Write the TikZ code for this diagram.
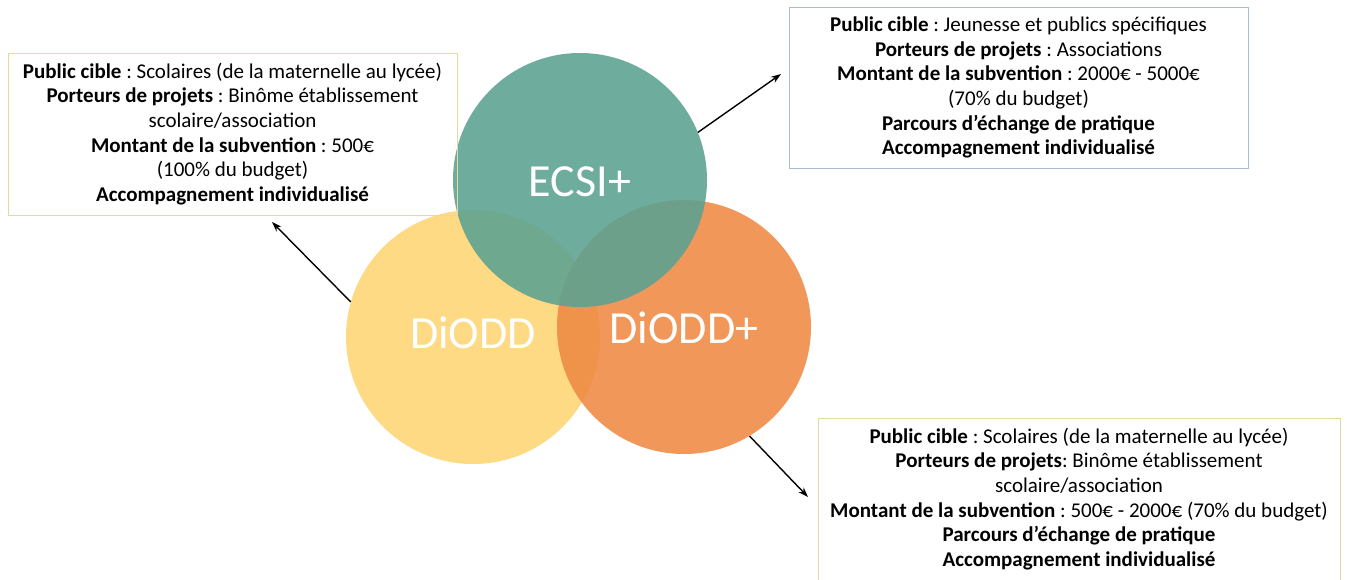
\documentclass[tikz,border=0pt]{standalone}
\usepackage{fontspec}
\setmainfont{Carlito}
\usetikzlibrary{arrows.meta}
\frenchspacing
\definecolor{teal1}{HTML}{5AA291}
\definecolor{yel1}{HTML}{FDD672}
\definecolor{ora1}{HTML}{EE8943}
\definecolor{boxy}{HTML}{E4D9A2}
\definecolor{boxb}{HTML}{A9BCD0}
\tikzset{
  venn/.style={circle, minimum size=254pt, inner sep=0pt, fill opacity=0.88, text opacity=1, text=white, font=\fontsize{46}{50}\selectfont},
  vennlabel/.style={text=white, font=\fontsize{46}{50}\selectfont},
  infobox/.style={draw, line width=0.9pt, align=center, inner sep=2pt, font=\fontsize{21}{24.7}\selectfont\frenchspacing},
  conn/.style={-{Stealth[length=10pt,width=7pt]}, line width=1.4pt, black}
}
\begin{document}
\begin{tikzpicture}[x=1pt,y=-1pt]
\useasboundingbox (0,0) rectangle (1347,579);
\fill[white] (0,0) rectangle (1347,579);
% circles
\node[venn, fill=yel1] (diodd) at (473,337) {};
\node[venn, fill=ora1] (diodp) at (684,327) {};
\node[venn, fill=teal1] (ecsi) at (580,180) {};
\node[vennlabel] (lecsi) at (580,182) {ECSI+};
\node[vennlabel] (ldiodd) at (473,333) {DiODD};
\node[vennlabel] (ldiodp) at (684,328) {DiODD+};
% boxes
\node[infobox, draw=boxy, minimum width=449pt, minimum height=162pt] (bl) at (232.5,134) {%
\textbf{Public cible} : Scolaires (de la maternelle au lycée)\\
\textbf{Porteurs de projets} : Binôme établissement\\
scolaire/association\\
\textbf{Montant de la subvention} : 500€\\
(100\% du budget)\\
\textbf{Accompagnement individualisé}};
\node[infobox, draw=boxb, minimum width=459pt, minimum height=161pt] (bt) at (1018.5,87.5) {%
\textbf{Public cible} : Jeunesse et publics spécifiques\\
\textbf{Porteurs de projets} : Associations\\
\textbf{Montant de la subvention} : 2000€ - 5000€\\
(70\% du budget)\\
\textbf{Parcours d’échange de pratique}\\
\textbf{Accompagnement individualisé}};
\node[infobox, draw=boxy, minimum width=522pt, minimum height=162pt] (bb) at (1079,499) {%
\textbf{Public cible} : Scolaires (de la maternelle au lycée)\\
\textbf{Porteurs de projets}: Binôme établissement\\
scolaire/association\\
\textbf{Montant de la subvention} : 500€ - 2000€ (70\% du budget)\\
\textbf{Parcours d’échange de pratique}\\
\textbf{Accompagnement individualisé}};
% arrow ends
\coordinate (el) at (272,222);
\coordinate (et) at (781,74);
\coordinate (eb) at (808,497);
\draw[conn] (diodd.164) -- (el);
\draw[conn] (ecsi.22) -- (et);
\draw[conn] (diodp.-59) -- (eb);
\end{tikzpicture}
\end{document}
